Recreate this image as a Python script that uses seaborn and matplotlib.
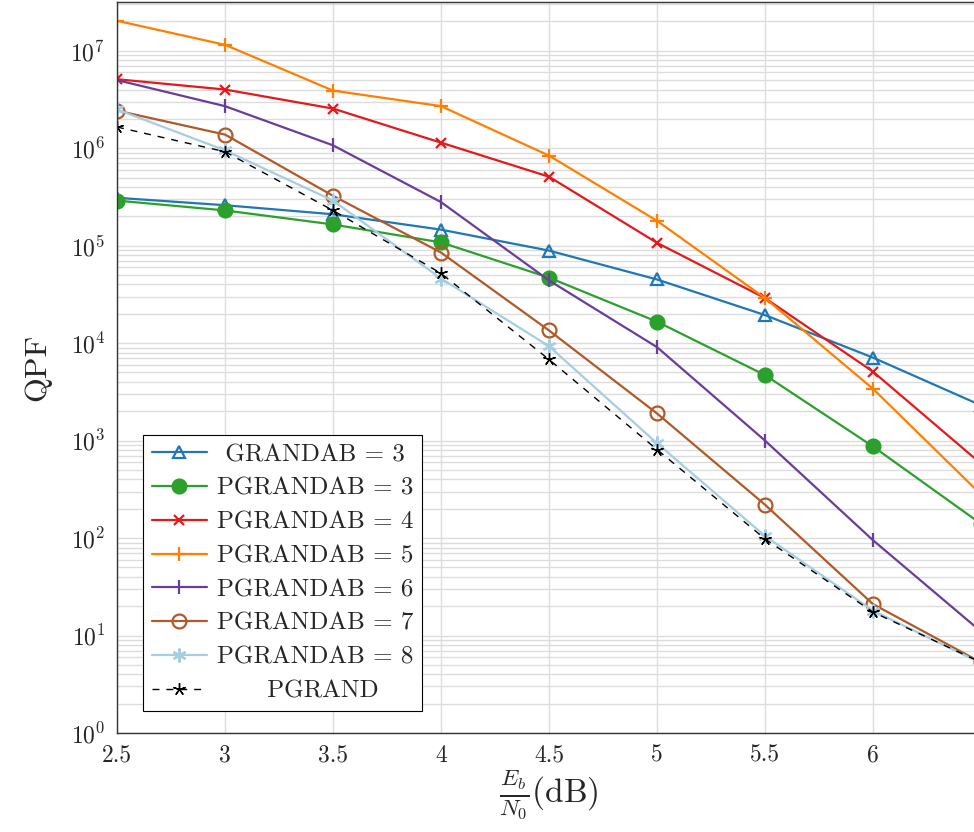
import numpy as np
import pandas as pd
import seaborn as sns
import matplotlib.pyplot as plt
from matplotlib.ticker import LogLocator, NullFormatter

sns.set_style("white")
plt.rcParams['font.family'] = 'serif'
plt.rcParams['font.serif'] = ['cmr10', 'DejaVu Serif']
plt.rcParams['mathtext.fontset'] = 'cm'
plt.rcParams['axes.unicode_minus'] = False
plt.rcParams['axes.formatter.use_mathtext'] = True

# Eb/N0 values (dB)
snr = [2.5, 3, 3.5, 4, 4.5, 5, 5.5, 6, 6.5]

# QPF per scheme
grandab_3 = [3.1e5, 2.6e5, 2.1e5, 1.46e5, 8.9e4, 4.5e4, 1.94e4, 7.1e3, 2.3e3]
pgrandab_3 = [2.9e5, 2.3e5, 1.65e5, 1.08e5, 4.7e4, 1.66e4, 4.7e3, 8.7e2, 1.4e2]
pgrandab_4 = [5.1e6, 4.0e6, 2.55e6, 1.14e6, 5.1e5, 1.07e5, 2.9e4, 5.1e3, 5.8e2]
pgrandab_5 = [2.03e7, 1.15e7, 3.9e6, 2.7e6, 8.4e5, 1.8e5, 2.9e4, 3.4e3, 2.8e2]
pgrandab_6 = [5.0e6, 2.7e6, 1.07e6, 2.8e5, 4.4e4, 9.1e3, 1.0e3, 95, 11]
pgrandab_7 = [2.43e6, 1.38e6, 3.25e5, 8.5e4, 1.35e4, 1.9e3, 2.2e2, 21, 5.3]
pgrandab_8 = [2.5e6, 9.5e5, 2.9e5, 4.6e4, 9.3e3, 9.4e2, 1.05e2, 18, 5.2]
pgrand = [1.65e6, 9.2e5, 2.3e5, 5.2e4, 6.8e3, 8.1e2, 98, 17.4, 5.3]

labels = [' GRANDAB = 3', 'PGRANDAB = 3', 'PGRANDAB = 4', 'PGRANDAB = 5',
          'PGRANDAB = 6', 'PGRANDAB = 7', 'PGRANDAB = 8', '      PGRAND']
series = [grandab_3, pgrandab_3, pgrandab_4, pgrandab_5, pgrandab_6, pgrandab_7, pgrandab_8, pgrand]

# color, marker, marker size, filled, linestyle
styles = [
    ('#1f77b4', '^', 8, False, '-'),
    ('#2ca02c', 'o', 10, True, '-'),
    ('#e31a1c', 'x', 7, True, '-'),
    ('#ff7f00', '+', 10, True, '-'),
    ('#6a3d9a', '|', 10, True, '-'),
    ('#b15928', 'o', 10, False, '-'),
    ('#a6cee3', (6, 2, 0), 10, True, '-'),
    ('black', (5, 2, 0), 9, True, (0, (5, 5))),
]

fig = plt.figure(figsize=(9.74, 8.32), dpi=100)
ax = fig.add_axes([117 / 974, 99 / 832, 864 / 974, 731 / 832])

for vals, lab, (c, m, ms, filled, ls) in zip(series, labels, styles):
    sns.lineplot(x=snr, y=vals, ax=ax, color=c, marker=m, markersize=ms,
                 markerfacecolor=c if filled else 'none', markeredgecolor=c,
                 markeredgewidth=1.6 if c != 'black' else 1.0,
                 linewidth=1.6 if ls == '-' else 1.0,
                 linestyle=ls, label=lab)

ax.set_yscale('log')
ax.set_xlim(2.5, 6.5)
ax.set_ylim(1, 10 ** 7.5)
ax.set_xticks([2.5, 3, 3.5, 4, 4.5, 5, 5.5, 6])
ax.set_xticklabels(['2.5', '3', '3.5', '4', '4.5', '5', '5.5', '6'])
ax.yaxis.set_major_locator(LogLocator(base=10, numticks=20))
ax.yaxis.set_minor_locator(LogLocator(base=10, subs=np.arange(2, 10), numticks=100))
ax.yaxis.set_minor_formatter(NullFormatter())

ax.grid(True, which='major', color='#dcdcdc', linewidth=1.0)
ax.grid(True, which='minor', axis='y', color='#dcdcdc', linewidth=1.0)
ax.set_axisbelow(True)
for s in ax.spines.values():
    s.set_color('#333333')
    s.set_linewidth(1.0)
ax.tick_params(axis='both', which='major', direction='out', length=5, width=0.8,
               labelsize=17, color='#555555')
ax.tick_params(axis='y', which='minor', direction='out', length=3, width=0.6, color='#555555')

ax.set_xlabel(r'$\frac{E_b}{N_0}(\mathrm{dB})$', fontsize=24, labelpad=1)
ax.set_ylabel('QPF', fontsize=23, labelpad=14)

leg = ax.legend(loc='lower left', bbox_to_anchor=(0.03, 0.03), borderaxespad=0,
                fontsize=18, frameon=True, fancybox=False, edgecolor='black',
                framealpha=1, handlelength=2.2, labelspacing=0.45, borderpad=0.35,
                handletextpad=0.4)
leg.get_frame().set_linewidth(0.8)

fig.savefig('out.png', dpi=100)
